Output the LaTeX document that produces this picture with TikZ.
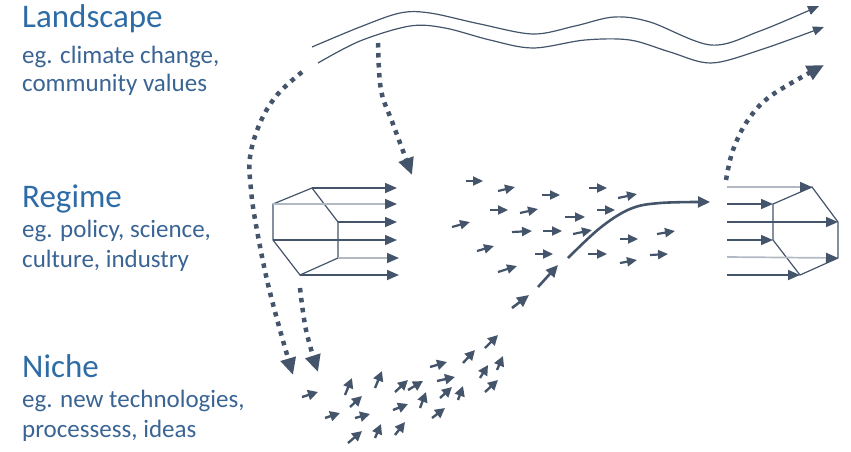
\documentclass[tikz,border=0pt]{standalone}
\usepackage{fontspec}
\setmainfont{Carlito}
\usetikzlibrary{arrows.meta}
\definecolor{slate}{RGB}{68,84,106}
\definecolor{slatelight}{RGB}{178,185,195}
\definecolor{headblue}{RGB}{46,108,166}
\definecolor{subblue}{RGB}{58,100,148}
\begin{document}
\begin{tikzpicture}[x=1pt,y=-1pt,
  head/.style={anchor=base west, inner sep=0pt, text=headblue, font=\fontsize{33}{40}\selectfont},
  sub/.style={anchor=base west, inner sep=0pt, text=subblue, font=\fontsize{25}{30}\selectfont},
  wave/.style={draw=slate, line width=1.2pt, -{Triangle[length=11pt,width=9pt]}},
  dotarrow/.style={draw=slate, line width=4.5pt, dash pattern=on 4.5pt off 5.5pt, -{Triangle[length=17pt,width=15pt]}},
  flow/.style={draw=slate, line width=1.7pt, -{Triangle[length=12pt,width=10pt]}},
  flowlight/.style={draw=slatelight, line width=1.7pt, -{Triangle[length=12pt,width=10pt,color=slate]}},
  prismedge/.style={draw=slate, line width=1.2pt},
  bit/.style={draw=slate, line width=2.2pt, -{Triangle[length=10pt,width=9pt]}},
  nbit/.style={draw=slate, line width=2.4pt, -{Triangle[length=10pt,width=10pt]}},
  bigbit/.style={draw=slate, line width=2.6pt, -{Triangle[length=12pt,width=11pt]}},
  scurve/.style={draw=slate, line width=2.6pt, -{Triangle[length=12pt,width=11pt]}}
]
\useasboundingbox (0,0) rectangle (851,451);

% texts
\node[head] (land) at (22,27) {Landscape};
\node[sub] (landa) at (22,63) {eg. climate change,};
\node[sub] (landb) at (22,91) {community values};
\node[head] (reg) at (22,207) {Regime};
\node[sub] (rega) at (22,237) {eg. policy, science,};
\node[sub] (regb) at (22,267) {culture, industry};
\node[head] (nich) at (22,377) {Niche};
\node[sub] (nicha) at (22,407) {eg. new technologies,};
\node[sub] (nichb) at (22,437) {processess, ideas};

% landscape waves
\draw[wave] plot[smooth,tension=0.55] coordinates {(312,47) (360,27) (400,13) (430,13) (480,24) (533,34) (575,26) (614,17) (650,22) (711,45) (760,31) (819,6)};
\draw[wave] plot[smooth,tension=0.55] coordinates {(318,63) (360,41) (410,26) (445,28) (490,40) (533,48) (585,40) (630,40) (670,52) (711,63) (760,50) (824,27)};

% dotted arrows
\draw[dotarrow] plot[smooth,tension=0.6] coordinates {(302,72) (277,95) (260,123) (250,157) (251,190) (256,225) (267,280) (280,330) (293,375)};
\draw[dotarrow] plot[smooth,tension=0.6] coordinates {(300,288) (306,330) (318,372)};
\draw[dotarrow] plot[smooth,tension=0.6] coordinates {(378,43) (381,90) (393,124) (412,175)};
\draw[dotarrow] plot[smooth,tension=0.6] coordinates {(726,180) (733,150) (748,120) (772,95) (824,65)};

% left prism
\coordinate (lT) at (312,188);
\coordinate (lLT) at (273,204);
\coordinate (lLB) at (273,240);
\coordinate (lB) at (300,275);
\coordinate (lRB) at (338,258);
\coordinate (lRT) at (338,222);
\coordinate (lt1) at (397,188);
\coordinate (lt2) at (397,204);
\coordinate (lt3) at (397,222);
\coordinate (lt4) at (397,240);
\coordinate (lt5) at (399,258);
\coordinate (lt6) at (399,275);
\draw[prismedge] (lT) -- (lLT) -- (lLB) -- (lB) -- (lRB) -- (lRT) -- cycle;
\draw[flow] (lT) -- (lt1);
\draw[flowlight] (lLT) -- (lt2);
\draw[flow] (lRT) -- (lt3);
\draw[flow] (lLB) -- (lt4);
\draw[flowlight] (lRB) -- (lt5);
\draw[flow] (lB) -- (lt6);

% right prism
\coordinate (rA) at (812,187);
\coordinate (rB) at (838,222);
\coordinate (rC) at (838,258);
\coordinate (rD) at (800,275);
\coordinate (rE) at (773,240);
\coordinate (rF) at (773,204);
\coordinate (rs1) at (727,187);
\coordinate (rs2) at (727,204);
\coordinate (rs3) at (727,222);
\coordinate (rs4) at (727,240);
\coordinate (rs5) at (727,257);
\coordinate (rs6) at (727,275);
\draw[prismedge] (rF) -- (rA) -- (rB) -- (rC) -- (rD) -- (rE) -- cycle;
\draw[flowlight] (rs1) -- (rA);
\draw[flow] (rs2) -- (rF);
\draw[flow] (rs3) -- (rB);
\draw[flow] (rs4) -- (rE);
\draw[flowlight] (rs5) -- (rC);
\draw[flow] (rs6) -- (rD);

% regime scattered arrows
\foreach \a/\b/\c/\d in {466/181/483/181, 498/191/515/187, 542/195/560/195, 589/188/607/188,
  618/198/637/194, 490/210/508/210, 520/213/538/209, 565/217/585/217, 597/210/615/210,
  452/227/470/222, 512/232/532/231, 543/231/562/231, 573/234/592/230, 620/239/638/239,
  657/234/675/231, 477/251/494/246, 535/254/553/254, 588/254/607/254, 620/263/637/260,
  650/255/668/254, 498/272/517/266}
  \draw[bit] (\a,\b) -- (\c,\d);

% niche arrows
\foreach \a/\b/\c/\d in {302/397/318/392, 345/395/352/378, 375/388/382/371, 395/392/408/380,
  408/390/423/381, 430/367/447/362, 437/381/455/377, 463/363/475/350, 485/348/498/335,
  480/378/488/365, 497/370/503/356, 350/407/362/396, 420/408/426/392, 440/398/452/387,
  458/400/463/386, 485/392/498/380, 325/418/340/413, 355/418/370/414, 393/410/408/404,
  432/418/445/408, 348/443/362/431, 375/438/381/424, 395/435/405/422}
  \draw[nbit] (\a,\b) -- (\c,\d);

% chain to S-curve
\draw[bigbit] (512,308) -- (529,295);
\draw[bigbit] (538,287) -- (558,265);
\draw[scurve] plot[smooth,tension=0.6] coordinates {(568,258) (600,228) (630,209) (660,203) (710,202)};
\end{tikzpicture}
\end{document}
